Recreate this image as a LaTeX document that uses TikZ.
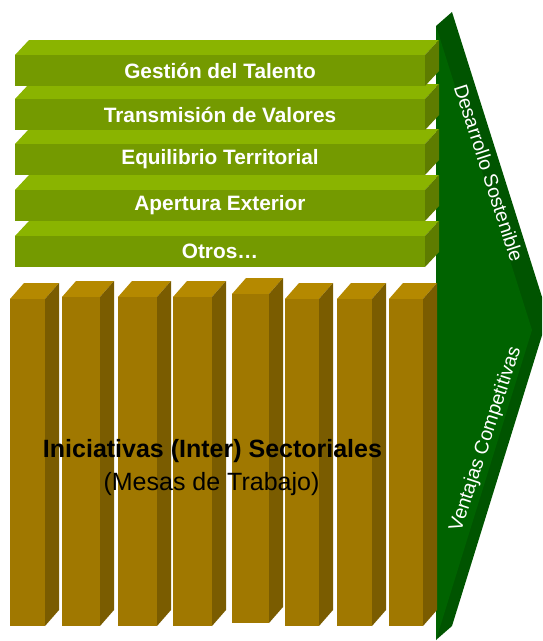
\documentclass[tikz,border=0pt]{standalone}
\usepackage{fontspec}
\setmainfont{Liberation Sans}
\definecolor{verdetop}{RGB}{138,180,0}
\definecolor{verdefront}{RGB}{116,154,0}
\definecolor{verdeside}{RGB}{94,124,0}
\definecolor{ocretop}{RGB}{181,137,0}
\definecolor{ocrefront}{RGB}{160,120,0}
\definecolor{ocreside}{RGB}{122,92,0}
\definecolor{flechaface}{RGB}{0,99,0}
\definecolor{flechaside}{RGB}{0,84,0}
\begin{document}
\begin{tikzpicture}[
        x=1pt, y=-1pt,
        gtop/.style={fill=verdetop},
        gfront/.style={fill=verdefront},
        gside/.style={fill=verdeside},
        ptop/.style={fill=ocretop},
        pfront/.style={fill=ocrefront},
        pside/.style={fill=ocreside},
        barlabel/.style={inner sep=0pt, text=white, font=\fontsize{20.8}{24}\selectfont\bfseries},
        arrowlabel/.style={inner sep=0pt, text=white, font=\fontsize{19.5}{23}\selectfont},
        pillarlabel/.style={inner sep=0pt, text=black, font=\fontsize{25}{29}\selectfont}
    ]
        \clip (0,0) rectangle (542,641);

        % Flecha
        \fill[flechaside] (436,26) -- (452,12) -- (548,316) -- (452,626) -- (436,640) -- cycle;
        \fill[flechaface] (436,26) -- (532,330) -- (436,640) -- cycle;
        \node[arrowlabel, rotate=-72] (desarrollo) at (489,173) {Desarrollo Sostenible};
        \node[arrowlabel, rotate=72] (ventajas) at (486,439) {Ventajas Competitivas};

        % Barras verdes
        \foreach \t/\txt/\n in {236/Otros…/otros, 190/Apertura Exterior/apertura,
                144/Equilibrio Territorial/equilibrio, 99/Transmisión de Valores/transmision,
                55/Gestión del Talento/gestion} {
            \fill[gtop] (15,\t) -- (29,\t-15) -- (439,\t-15) -- (425,\t) -- cycle;
            \fill[gfront] (15,\t) rectangle (425,\t+31);
            \fill[gside] (425,\t) -- (439,\t-15) -- (439,\t+16) -- (425,\t+31) -- cycle;
            \node[barlabel] (\n) at (220,\t+15.5) {\txt};
        }

        % Pilares
        \foreach \l/\r/\t/\b in {10/45/299/626, 62/100/297/626, 118/157/297/626,
                173/212/297/626, 232/269/294/623, 285/319/299/626,
                337/372/299/626, 389/423/299/626} {
            \fill[ptop] (\l,\t) -- (\l+14,\t-16) -- (\r+14,\t-16) -- (\r,\t) -- cycle;
            \fill[pfront] (\l,\t) rectangle (\r,\b);
            \fill[pside] (\r,\t) -- (\r+14,\t-16) -- (\r+14,\b-16) -- (\r,\b) -- cycle;
        }

        \node[pillarlabel, font=\fontsize{25}{29}\selectfont\bfseries] (iniciativas) at (212.5,451) {Iniciativas (Inter) Sectoriales};
        \node[pillarlabel] (mesas) at (211.5,484) {(Mesas de Trabajo)};
    \end{tikzpicture}
\end{document}
